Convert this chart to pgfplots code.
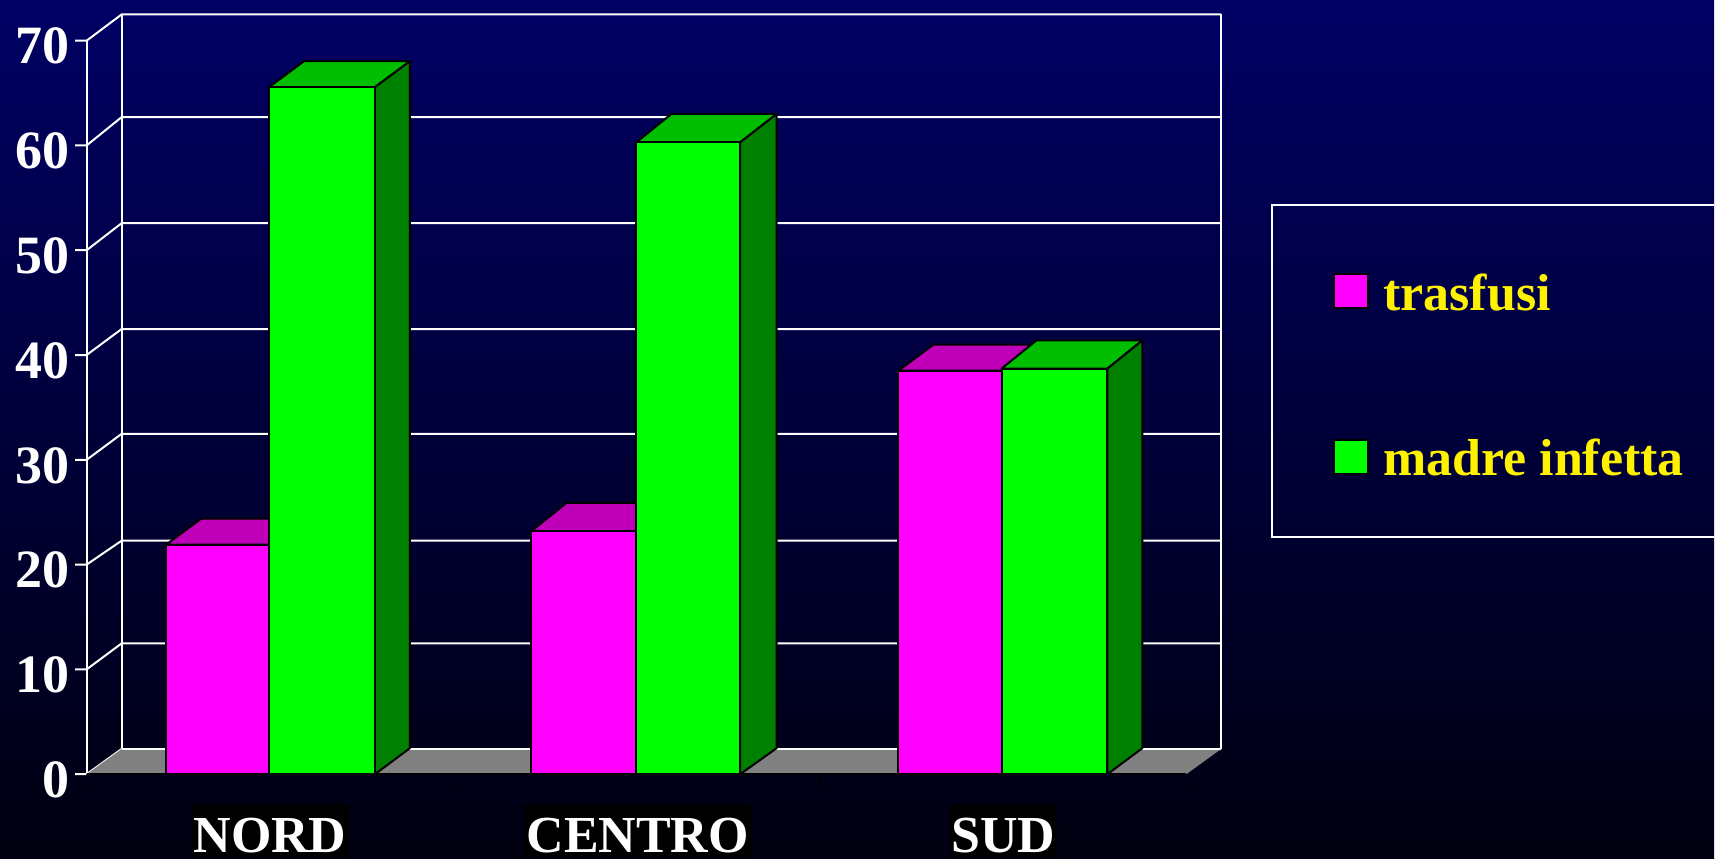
\documentclass[border=0pt]{standalone}
\usepackage{pgfplots}
\pgfplotsset{compat=1.18}
\usepackage{fontspec}
\setmainfont{Liberation Serif}
\definecolor{bgtop}{RGB}{0,0,100}
\definecolor{bgbot}{RGB}{0,0,16}
\definecolor{mag}{RGB}{255,0,255}
\definecolor{magtop}{RGB}{191,0,184}
\definecolor{grn}{RGB}{0,255,0}
\definecolor{grntop}{RGB}{0,191,0}
\definecolor{grnside}{RGB}{0,128,0}
\pgfplotsset{
  wall/.style={white,line width=1pt,forget plot},
  face/.style={draw=black,line width=1pt,line join=round,fill=#1},
}
\begin{document}
\begin{tikzpicture}
\fill[top color=bgtop,bottom color=bgbot] (0,0) rectangle (857.5pt,429.5pt);
\begin{axis}[
  at={(0,0)}, anchor=south west,
  scale only axis, width=857.5pt, height=429.5pt,
  xmin=0, xmax=1715, ymin=-8.058, ymax=73.86,
  clip=false, axis line style={draw=none}, major tick length=0pt,
  ytick={0,10,20,30,40,50,60,70},
  xtick={270,638,1004},
  xticklabels={NORD,CENTRO,SUD},
  /pgf/number format/assume math mode=true,
  yticklabel style={font=\fontsize{27}{27}\selectfont\bfseries,text=white,inner sep=0pt,anchor=east,xshift=34.8pt,yshift=-2.8pt},
  xticklabel style={font=\fontsize{26}{26}\selectfont\bfseries,text=white,fill=black,inner xsep=1pt,inner ysep=0pt,text height=24.1pt,text depth=2.2pt,anchor=north,yshift=27.5pt},
  legend style={at={(axis cs:1333,48.19)},anchor=north west,draw=none,fill=none,inner sep=0pt,
    font=\fontsize{26}{26}\selectfont\bfseries,text=yellow,row sep=59pt,
    /tikz/every odd column/.append style={column sep=5.3pt}},
  legend cell align=left,
  legend image code/.code={\draw[#1,draw=black,line width=1pt] (0pt,-7.4pt) rectangle (17pt,9.6pt);},
]
% walls
\addplot[wall] coordinates {(86.5,0) (86.5,70)};
\addplot[wall] coordinates {(121.5,2.4) (121.5,72.5)};
\addplot[wall] coordinates {(75,0) (86.5,0) (121.5,2.4) (1221.7,2.4)};
\addplot[wall] coordinates {(75,10) (86.5,10) (121.5,12.48) (1221.7,12.48)};
\addplot[wall] coordinates {(75,20) (86.5,20) (121.5,22.28) (1221.7,22.28)};
\addplot[wall] coordinates {(75,30) (86.5,30) (121.5,32.48) (1221.7,32.48)};
\addplot[wall] coordinates {(75,40) (86.5,40) (121.5,42.48) (1221.7,42.48)};
\addplot[wall] coordinates {(75,50) (86.5,50) (121.5,52.58) (1221.7,52.58)};
\addplot[wall] coordinates {(75,60) (86.5,60) (121.5,62.7) (1221.7,62.7)};
\addplot[wall] coordinates {(75,70) (86.5,70) (121.5,72.5) (1221.7,72.5)};
\addplot[wall] coordinates {(1221.7,2.4) (1221.7,72.5)};
% floor
\addplot[fill=gray,draw=none,forget plot] coordinates {(86.5,0) (121.5,2.4) (1221.7,2.4) (1187,0)} -- cycle;
\addplot[wall] coordinates {(121.5,2.4) (1221.7,2.4)};
\addplot[black,line width=1pt,forget plot] coordinates {(86.5,0) (1187,0)};
\addplot[black,line width=0.8pt,forget plot] coordinates {(86.5,0) (86.5,-1)};
\addplot[black,line width=0.8pt,forget plot] coordinates {(453.5,0) (453.5,-1)};
\addplot[black,line width=0.8pt,forget plot] coordinates {(820.5,0) (820.5,-1)};
\addplot[black,line width=0.8pt,forget plot] coordinates {(1187,0) (1187,-1)};
% legend frame
\addplot[wall] coordinates {(1715,54.3) (1273,54.3) (1273,22.6) (1715,22.6)};
% NORD
\addplot[face=magtop,forget plot] coordinates {(166,21.9) (201,24.38) (304,24.38) (269,21.9)} -- cycle;
\addplot[face=mag] coordinates {(166,0) (166,21.9) (269,21.9) (269,0)} -- cycle;
\addlegendentry{trasfusi}
\addplot[face=grntop,forget plot] coordinates {(269,65.56) (304,68.04) (410,68.04) (375,65.56)} -- cycle;
\addplot[face=grnside,forget plot] coordinates {(375,0) (410,2.48) (410,68.04) (375,65.56)} -- cycle;
\addplot[face=grn] coordinates {(269,0) (269,65.56) (375,65.56) (375,0)} -- cycle;
\addlegendentry{madre infetta}
% CENTRO
\addplot[face=magtop,forget plot] coordinates {(531.6,23.2) (566.6,25.88) (671.6,25.88) (636.6,23.2)} -- cycle;
\addplot[face=mag,forget plot] coordinates {(531.6,0) (531.6,23.2) (636.6,23.2) (636.6,0)} -- cycle;
\addplot[face=grntop,forget plot] coordinates {(636.6,60.3) (671.6,63.0) (777,63.0) (740.5,60.3)} -- cycle;
\addplot[face=grnside,forget plot] coordinates {(740.5,0) (777,2.48) (777,63.0) (740.5,60.3)} -- cycle;
\addplot[face=grn,forget plot] coordinates {(636.6,0) (636.6,60.3) (740.5,60.3) (740.5,0)} -- cycle;
% SUD
\addplot[face=magtop,forget plot] coordinates {(898.7,38.5) (933.7,40.98) (1037,40.98) (1002,38.5)} -- cycle;
\addplot[face=mag,forget plot] coordinates {(898.7,0) (898.7,38.5) (1002,38.5) (1002,0)} -- cycle;
\addplot[face=grntop,forget plot] coordinates {(1002,38.7) (1037,41.4) (1143,41.4) (1108,38.7)} -- cycle;
\addplot[face=grnside,forget plot] coordinates {(1108,0) (1143,2.48) (1143,41.4) (1108,38.7)} -- cycle;
\addplot[face=grn,forget plot] coordinates {(1002,0) (1002,38.7) (1108,38.7) (1108,0)} -- cycle;
\end{axis}
\end{tikzpicture}
\end{document}
